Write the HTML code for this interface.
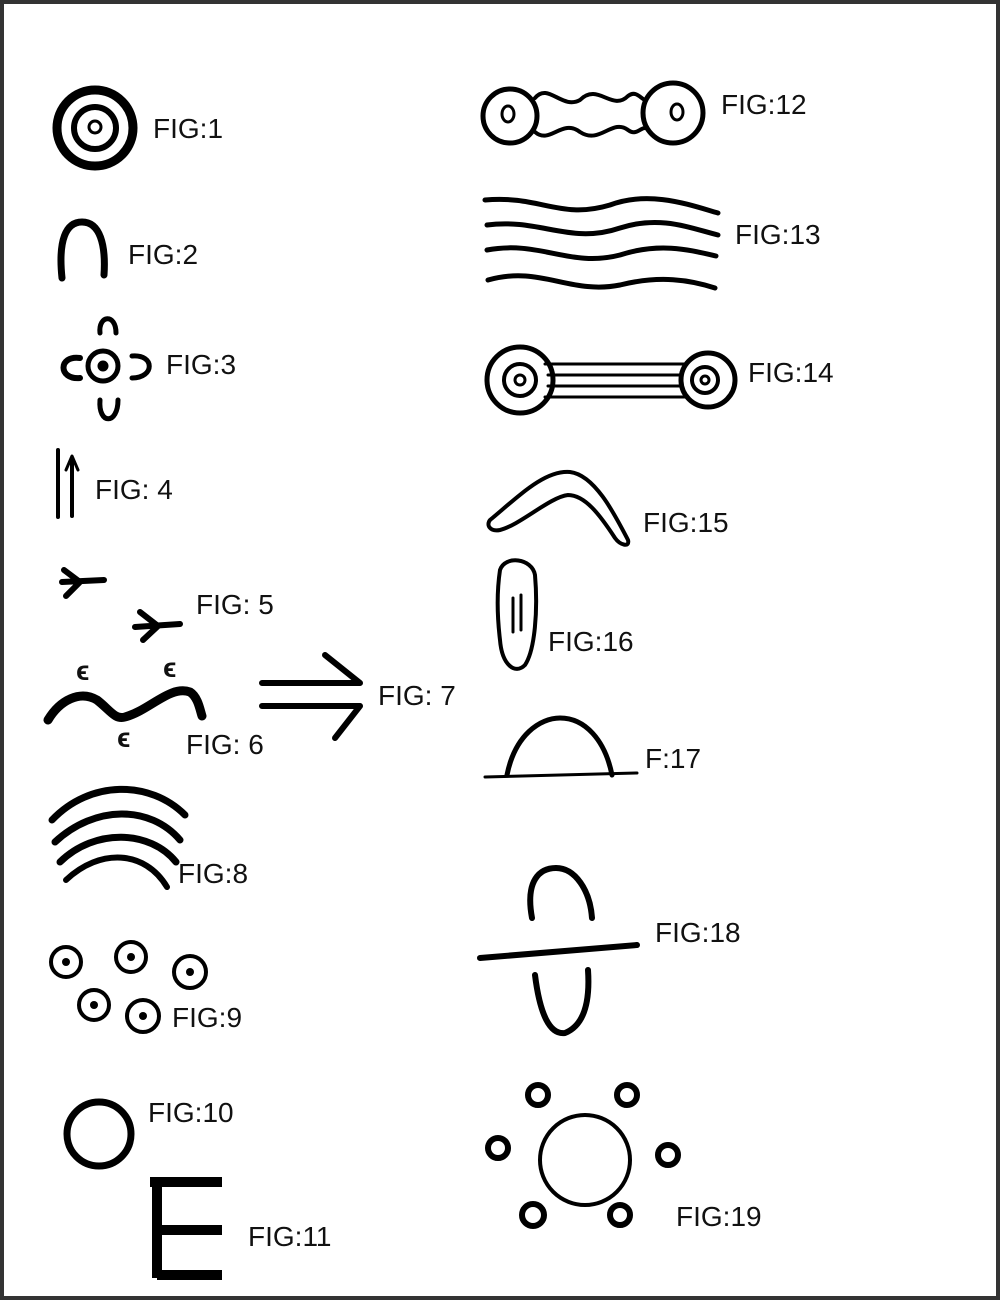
<!DOCTYPE html>
<html><head><style>
html,body{margin:0;padding:0;background:#fff}
svg{display:block}
text{font-family:"Liberation Sans",sans-serif;font-size:28px;fill:#111}
</style></head><body>
<svg width="1000" height="1300" viewBox="0 0 1000 1300" xmlns="http://www.w3.org/2000/svg">
<rect x="2" y="2" width="996" height="1296" fill="#fff" stroke="#333" stroke-width="4"/>
<g fill="none" stroke="#000" stroke-linecap="round" stroke-linejoin="round">
<circle cx="95" cy="128" r="38" stroke-width="9"/>
<circle cx="95" cy="128" r="21" stroke-width="6"/>
<circle cx="95" cy="127" r="6" stroke-width="3"/>
<path d="M62 278 C58 240 66 222 82 222 C100 222 106 245 104 275" stroke-width="7"/>
<circle cx="103" cy="366" r="15" stroke-width="5"/>
<circle cx="103" cy="366" r="5" fill="#000"/>
<path d="M100 333 C98 315 116 313 116 333" stroke-width="5"/>
<path d="M100 400 C98 425 118 425 118 400" stroke-width="5"/>
<path d="M80 358 C58 355 58 380 80 378" stroke-width="6"/>
<path d="M132 356 C155 354 155 378 132 378" stroke-width="5"/>
<path d="M58 450 L58 517 M72 458 L72 516" stroke-width="4"/>
<path d="M66 470 L72 456 L78 470" stroke-width="3"/>
<path d="M62 582 L104 580 M64 570 L80 582 L66 596" stroke-width="6"/>
<path d="M135 627 L180 624 M140 612 L158 626 L143 640" stroke-width="6"/>
<path d="M48 720 C60 700 80 690 97 700 C110 710 115 720 125 717 C150 710 170 685 190 692 C198 697 200 710 202 716" stroke-width="9"/>
<path d="M262 683 L360 683 M325 655 L360 683 M262 706 L360 706 M335 738 L360 706" stroke-width="6"/>
<path d="M52 820 C90 780 150 780 185 815" stroke-width="7"/>
<path d="M55 842 C95 805 150 805 180 840" stroke-width="7"/>
<path d="M60 862 C95 828 150 830 176 862" stroke-width="7"/>
<path d="M66 880 C100 848 145 850 167 887" stroke-width="6"/>
<g stroke-width="4">
<circle cx="66" cy="962" r="15"/><circle cx="131" cy="957" r="15"/><circle cx="190" cy="972" r="16"/><circle cx="94" cy="1005" r="15"/><circle cx="143" cy="1016" r="16"/>
</g>
<g fill="#000" stroke="none">
<circle cx="66" cy="962" r="4"/><circle cx="131" cy="957" r="4"/><circle cx="190" cy="972" r="4"/><circle cx="94" cy="1005" r="4"/><circle cx="143" cy="1016" r="4"/>
</g>
<circle cx="99" cy="1134" r="32" stroke-width="7"/>
<path d="M157 1178 L157 1278 M150 1182 L222 1182 M157 1230 L222 1230 M157 1275 L222 1275" stroke-width="10" stroke-linecap="butt"/>
<circle cx="510" cy="116" r="27" stroke-width="5"/>
<circle cx="673" cy="113" r="30" stroke-width="5"/>
<ellipse cx="508" cy="114" rx="6" ry="8" stroke-width="3"/>
<ellipse cx="677" cy="112" rx="6" ry="8" stroke-width="3"/>
<path d="M535 98 C548 82 562 110 580 100 C598 82 612 112 628 96 C636 90 640 98 645 100" stroke-width="4"/>
<path d="M535 132 C550 145 562 118 580 132 C600 145 612 118 628 130 C636 136 640 128 645 128" stroke-width="4"/>
<path d="M485 200 C540 195 560 220 610 205 C650 190 690 205 718 213" stroke-width="5"/>
<path d="M487 225 C540 218 570 245 620 228 C660 215 690 228 718 235" stroke-width="5"/>
<path d="M487 250 C540 240 570 268 620 255 C660 242 690 250 716 256" stroke-width="5"/>
<path d="M488 280 C540 265 570 295 620 285 C660 275 690 280 715 288" stroke-width="5"/>
<circle cx="520" cy="380" r="33" stroke-width="5"/>
<circle cx="520" cy="380" r="16" stroke-width="4"/>
<circle cx="520" cy="380" r="5" stroke-width="3"/>
<circle cx="708" cy="380" r="27" stroke-width="5"/>
<circle cx="705" cy="380" r="13" stroke-width="4"/>
<circle cx="705" cy="380" r="4" stroke-width="3"/>
<path d="M545 364 L685 364 M548 375 L682 375 M548 386 L682 386 M545 397 L685 397" stroke-width="3"/>
<path d="M490 520 C520 495 545 470 570 472 C595 475 615 515 628 540 C630 548 620 545 615 538 C600 515 585 495 568 495 C550 497 520 525 500 530 C490 532 486 525 490 520 Z" stroke-width="4"/>
<path d="M500 570 C505 555 532 558 535 575 C538 610 535 650 525 665 C515 675 502 665 500 640 C497 615 497 590 500 570 Z" stroke-width="4"/>
<path d="M513 598 L513 632 M521 595 L521 630" stroke-width="3"/>
<path d="M485 777 L637 773" stroke-width="3"/>
<path d="M507 775 C515 735 540 718 560 718 C585 718 605 740 612 775" stroke-width="5"/>
<path d="M480 958 L637 945" stroke-width="6"/>
<path d="M532 918 C525 880 540 868 556 868 C575 868 590 890 592 918" stroke-width="6"/>
<path d="M535 975 C540 1015 550 1035 565 1033 C585 1025 590 1000 588 970" stroke-width="6"/>
<circle cx="585" cy="1160" r="45" stroke-width="4"/>
<g stroke-width="6">
<circle cx="538" cy="1095" r="10"/><circle cx="627" cy="1095" r="10"/><circle cx="498" cy="1148" r="10"/><circle cx="668" cy="1155" r="10"/><circle cx="533" cy="1215" r="11"/><circle cx="620" cy="1215" r="10"/>
</g>
</g>
<g fill="#000">
<text x="76" y="680" font-size="24" font-weight="bold">ϵ</text>
<text x="163" y="677" font-size="24" font-weight="bold">ϵ</text>
<text x="117" y="747" font-size="24" font-weight="bold">ϵ</text>
</g>
<text x="153" y="138">FIG:1</text>
<text x="128" y="264">FIG:2</text>
<text x="166" y="374">FIG:3</text>
<text x="95" y="499">FIG: 4</text>
<text x="196" y="614">FIG: 5</text>
<text x="186" y="754">FIG: 6</text>
<text x="378" y="705">FIG: 7</text>
<text x="178" y="883">FIG:8</text>
<text x="172" y="1027">FIG:9</text>
<text x="148" y="1122">FIG:10</text>
<text x="248" y="1246">FIG:11</text>
<text x="721" y="114">FIG:12</text>
<text x="735" y="244">FIG:13</text>
<text x="748" y="382">FIG:14</text>
<text x="643" y="532">FIG:15</text>
<text x="548" y="651">FIG:16</text>
<text x="645" y="768">F:17</text>
<text x="655" y="942">FIG:18</text>
<text x="676" y="1226">FIG:19</text>
</svg>
</body></html>
